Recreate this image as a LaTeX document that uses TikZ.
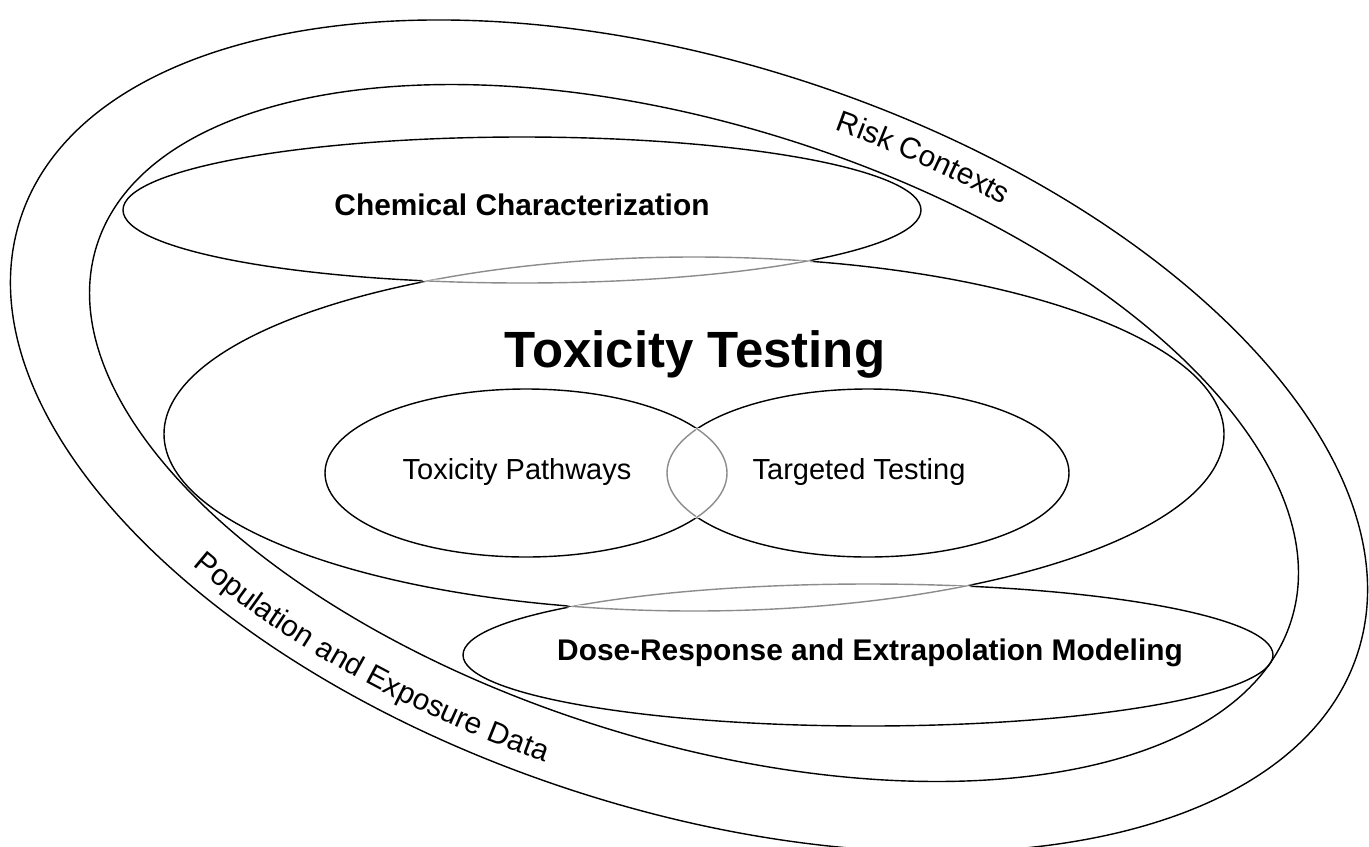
\documentclass[tikz,border=0pt]{standalone}
\usepackage{fontspec}
\setmainfont{Liberation Sans}
\usetikzlibrary{decorations.text}

\newcommand{\labelfont}{\fontsize{16.5}{18}\selectfont}
\newcommand{\boldlabelfont}{\fontsize{17}{19}\selectfont\bfseries}
\newcommand{\chemring}{(522,-210) ellipse (399 and 73)}
\newcommand{\toxring}{(694,-434) ellipse (530 and 177)}
\newcommand{\dosering}{(868,-655) ellipse (405 and 71)}
\newcommand{\pathring}{(526,-473) ellipse (201 and 84)}
\newcommand{\targetring}{(868,-473) ellipse (201 and 84)}

\tikzset{
  ring/.style={line width=0.8pt},
  lensmask/.style={white, line width=1.9pt},
  lensline/.style={black!45, line width=0.8pt},
  ringlabel/.style={anchor=base, font=\boldlabelfont},
  innerlabel/.style={anchor=base, font=\labelfont},
  bandtext/.style={decorate, decoration={text along path, text align=center, text={|\fontsize{17}{19}\selectfont|#1}}}
}

\begin{document}
\begin{tikzpicture}[x=0.02cm, y=0.02cm]
        \useasboundingbox (0,0) rectangle (1369,-846);

        \draw[ring, rotate around={-18:(689,-436)}] (689,-436) ellipse (703 and 373);
        \draw[ring, rotate around={-17.4:(694,-433)}] (694,-433) ellipse (626 and 308);

        \draw[ring] \chemring;
        \draw[ring] \toxring;
        \draw[ring] \dosering;
        \draw[ring] \pathring;
        \draw[ring] \targetring;

        % overlaps in grey
        \begin{scope}
          \clip \chemring;
          \draw[lensmask] \toxring;
          \draw[lensline] \toxring;
        \end{scope}
        \begin{scope}
          \clip \toxring;
          \draw[lensmask] \chemring;
          \draw[lensline] \chemring;
          \draw[lensmask] \dosering;
          \draw[lensline] \dosering;
        \end{scope}
        \begin{scope}
          \clip \dosering;
          \draw[lensmask] \toxring;
          \draw[lensline] \toxring;
        \end{scope}
        \begin{scope}
          \clip \pathring;
          \draw[lensmask] \targetring;
          \draw[lensline] \targetring;
        \end{scope}
        \begin{scope}
          \clip \targetring;
          \draw[lensmask] \pathring;
          \draw[lensline] \pathring;
        \end{scope}

        \node[ringlabel] (chem) at (522,-215) {Chemical Characterization};
        \node[anchor=base, font=\fontsize{29}{31}\selectfont\bfseries] (tox) at (695,-367) {Toxicity Testing};
        \node[innerlabel] (paths) at (517,-479) {Toxicity Pathways};
        \node[innerlabel] (target) at (859,-479) {Targeted Testing};
        \node[ringlabel] (dose) at (870,-660) {Dose-Response and Extrapolation Modeling};

        \path[bandtext={Risk Contexts}] plot[smooth, samples=40, domain=0:1, variable=\s]
          ({689+0.9511*665*cos(100-45*\s)+0.3090*337*sin(100-45*\s)},
           {-436-0.3090*665*cos(100-45*\s)+0.9511*337*sin(100-45*\s)});
        \path[bandtext={Population and Exposure Data}] plot[smooth, samples=40, domain=0:1, variable=\s]
          ({689+0.9511*690*cos(220+56*\s)+0.3090*355*sin(220+56*\s)},
           {-436-0.3090*690*cos(220+56*\s)+0.9511*355*sin(220+56*\s)});
\end{tikzpicture}
\end{document}
